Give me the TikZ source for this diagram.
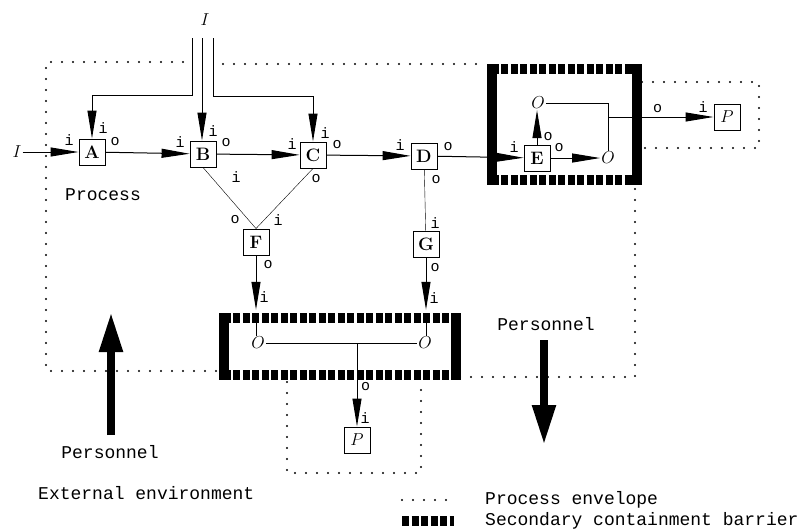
\documentclass[tikz,border=0pt]{standalone}
\usepackage{fontspec}
\setmonofont{Liberation Mono}
\usetikzlibrary{arrows.meta,positioning,calc}

\begin{document}
\begin{tikzpicture}[x=1pt, y=-1pt, >={Triangle[length=28pt,width=9pt]},
  box/.style={draw, line width=0.9pt, minimum size=26pt, inner sep=0pt, font=\bfseries\fontsize{18}{18}\selectfont},
  io/.style={inner sep=0pt, font=\ttfamily\fontsize{15}{15}\selectfont},
  lab/.style 2 args={label={[io,shift={#1}]center:#2}},
  var/.style={inner sep=1pt, font=\fontsize{19}{19}\selectfont},
  txt/.style={inner sep=0pt, font=\ttfamily\fontsize{18}{18}\selectfont},
  arr/.style={->, line width=1pt},
  big/.style={-{Triangle[length=40pt,width=22pt]}, line width=8pt},
  wall/.style={line width=10pt, line cap=rect},
  walld/.style={line width=10pt, dash pattern=on 7pt off 2.5pt},
  env/.style={line width=2.2pt, line cap=round, dash pattern=on 0pt off 11pt},
  zone/.style={draw=none, inner sep=0pt}]
\useasboundingbox (0,0) rectangle (805,531);

% process envelope and enclosures
\draw[env] (183,62) -- (46,62) -- (46,371) -- (218,371);
\draw[env] (223,64) -- (487,64);
\draw[env] (460,377) -- (635,377) -- (635,186);
\draw[env] (642,82) -- (759,82) -- (759,148) -- (642,148);
\draw[env] (287,382) -- (287,473) -- (421,473) -- (421,382);

% secondary containment barriers
\node[zone, minimum width=145pt, minimum height=111pt] (bE) at (564.5,124.5) {};
\node[zone, minimum width=232pt, minimum height=57pt] (bB) at (340,346.5) {};
\foreach \b in {bE,bB} {
  \draw[walld] (\b.north west) -- (\b.north east);
  \draw[walld] (\b.south west) -- (\b.south east);
  \draw[wall] (\b.north west) -- (\b.south west);
  \draw[wall] (\b.north east) -- (\b.south east);
}

% inputs
\node[var] (Itop) at (205,20) {$I$};
\node[var] (Il) at (17,152) {$I$};
\coordinate (tl) at (192,38);
\coordinate (tm) at (202,38);
\coordinate (tr) at (213,38);

% units
\node[box, lab={(-23,-12)}{i}, lab={(11,-24)}{i}, lab={(23,-10)}{o}] (A) at (92,152) {A};
\node[box, lab={(-23,-12)}{i}, lab={(10,-23)}{i}, lab={(23,-11)}{o}, lab={(33,23)}{i}] (B) at (203,154) {B};
\node[box, lab={(-21,-11)}{i}, lab={(12,-22)}{i}, lab={(24,-10)}{o}, lab={(3,24)}{o}] (C) at (313,155) {C};
\node[box, lab={(-24,-11)}{i}, lab={(24,-9)}{o}, lab={(12,24)}{o}] (D) at (424,156) {D};
\node[box, lab={(-23,-11)}{i}, lab={(11,-21)}{o}, lab={(22,-10)}{o}] (E) at (537,158) {E};
\node[box, lab={(-21,-22)}{o}, lab={(22,-22)}{i}, lab={(12,23)}{o}] (F) at (256,242) {F};
\node[box, lab={(9,-21)}{i}, lab={(9,24)}{o}] (G) at (426,244) {G};
\node[box, lab={(-24,-10)}{i}] (Pr) at (727,117) {$P$};
\node[box, lab={(8,-22)}{i}] (Pb) at (357,440) {$P$};
\node[var] (Oe1) at (538,103) {$O$};
\node[var] (Oe2) at (608,158) {$O$};
\node[var] (Ob1) at (258,343) {$O$};
\node[var] (Ob2) at (425,343) {$O$};

% flows
\draw[arr] (tl) -- ++(0,57) -| (A);
\draw[arr] (tm) -- (tm |- B.north);
\draw[arr] (tr) -- ++(0,58) -| (C);
\draw[arr] (Il) -- (A);
\draw[arr] (A) -- (B);
\draw[arr] (B) -- (C);
\draw[arr] (C) -- (D);
\draw[arr] (D) -- (E);
\draw (B.south) -- (F.north);
\draw (C.south) -- (F.north);
\draw (D) -- (G);
\draw[arr] (E) -- (E |- Oe1.south);
\draw[arr] (E) -- (Oe2);
\draw (Oe1) -| (Oe2);
\draw[arr] (Oe2 |- Pr) -- node[io, above=4pt, pos=0.47] (oE) {o} (Pr);
\draw[arr, shorten >=8pt] (F) -- node[io, right=3pt, pos=0.66] (iF) {i} (F |- bB.north);
\draw (F |- bB.north) -- (F |- Ob1.north);
\draw[arr, shorten >=8pt] (G) -- node[io, right=3pt, pos=0.67] (iG) {i} (G |- bB.north);
\draw (G |- bB.north) -- (G |- Ob2.north);
\draw (Ob1) -- (Ob2);
\draw[arr] (Pb |- Ob1) -- node[io, right=3.5pt, pos=0.52] (oB) {o} (Pb);

% personnel
\node[txt, anchor=west] (proc) at (65,195) {Process};
\node[txt] (pers1) at (110,452) {Personnel};
\node[txt] (pers2) at (546,324) {Personnel};
\coordinate (up0) at (111,435);
\coordinate (up1) at (111,312);
\coordinate (dn0) at (544,340);
\coordinate (dn1) at (544,445);
\draw[big] (up0) -- (up1);
\draw[big] (dn0) -- (dn1);

% legend
\node[txt, anchor=west] (ext) at (38,493) {External environment};
\node[txt, anchor=west] (lg1) at (485,500) {Process envelope};
\node[txt, anchor=west] (lg2) at (485,521) {Secondary containment barrier};
\draw[env] ([xshift=-83pt]lg1.west) -- ([xshift=-31pt]lg1.west);
\draw[walld] ([xshift=-83pt]lg2.west) -- ([xshift=-31pt]lg2.west);
\end{tikzpicture}
\end{document}
